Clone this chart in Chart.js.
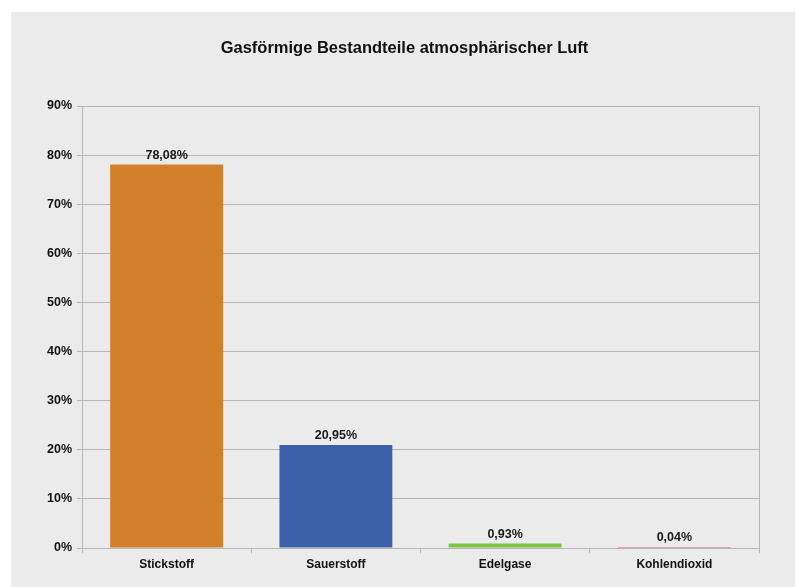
<!DOCTYPE html>
<html>
<head>
<meta charset="utf-8">
<script src="https://cdn.jsdelivr.net/npm/chart.js@4.4.1/dist/chart.umd.min.js"></script>
<style>
  html,body{margin:0;padding:0;background:#fff;}
  #panel{position:absolute;left:11px;top:12px;width:784px;height:575px;background:#ebebeb;}
  #wrap{position:absolute;left:0;top:0;width:798px;height:587px;}
</style>
</head>
<body>
<div id="panel"></div>
<div id="wrap"><canvas id="gasChart" width="798" height="587"></canvas></div>
<script>
const categories=['Stickstoff','Sauerstoff','Edelgase','Kohlendioxid'];
const shares=[78.08,20.95,0.93,0.04];
const yTicks=[0,10,20,30,40,50,60,70,80,90];
const barColors=['#d2802a','#3a60a9','#7dc243','#e05a5a'];
const titleText='Gasförmige Bestandteile atmosphärischer Luft';

const gridGray='#b5b5b5';
const fontFam='"Liberation Sans", Arial, sans-serif';

function pct(v){return v.toFixed(2).replace('.',',')+'%';}

// value labels over each bar
const valueLabels={
  id:'valueLabels',
  afterDatasetsDraw(chart){
    const ctx=chart.ctx;
    const meta=chart.getDatasetMeta(0);
    ctx.save();
    ctx.font='bold 12.5px '+fontFam;
    ctx.fillStyle='#1a1a1a';
    ctx.textAlign='center';
    ctx.textBaseline='bottom';
    meta.data.forEach((bar,i)=>{
      ctx.fillText(pct(shares[i]),bar.x,bar.y-3);
    });
    ctx.restore();
  }
};

// right frame line + title (centred on the panel, not the canvas)
const frameAndTitle={
  id:'frameAndTitle',
  afterDraw(chart){
    const a=chart.chartArea,ctx=chart.ctx;
    ctx.save();
    ctx.strokeStyle=gridGray;
    ctx.lineWidth=1;
    ctx.beginPath();
    ctx.moveTo(Math.round(a.right)+0.5,a.top);
    ctx.lineTo(Math.round(a.right)+0.5,a.bottom);
    ctx.stroke();
    ctx.font='bold 16.5px '+fontFam;
    ctx.fillStyle='#111';
    ctx.textAlign='center';
    ctx.textBaseline='middle';
    ctx.fillText(titleText,(a.left+a.right)/2-16,a.top-58);
    ctx.restore();
  }
};

new Chart(document.getElementById('gasChart'),{
  type:'bar',
  data:{
    labels:categories,
    datasets:[{
      data:shares,
      backgroundColor:barColors,
      borderWidth:0,
      minBarLength:1,
      barPercentage:0.667,
      categoryPercentage:1
    }]
  },
  options:{
    responsive:false,
    animation:false,
    layout:{padding:{left:37,right:39,top:106,bottom:0}},
    plugins:{
      legend:{display:false},
      tooltip:{enabled:false},
      title:{display:false}
    },
    scales:{
      x:{
        offset:true,
        grid:{offset:true,drawOnChartArea:false,drawTicks:true,tickLength:5,color:gridGray},
        border:{color:gridGray},
        ticks:{color:'#111',font:{family:fontFam,size:12,weight:'bold'},padding:4,maxRotation:0},
        afterFit(s){s.height=39;}
      },
      y:{
        min:0,max:90,
        afterBuildTicks(s){s.ticks=yTicks.map(v=>({value:v}));},
        grid:{color:gridGray,tickLength:5},
        border:{color:gridGray},
        ticks:{color:'#111',font:{family:fontFam,size:12.5,weight:'bold'},padding:5,callback:v=>v+'%'},
        afterFit(s){s.width=45;}
      }
    }
  },
  plugins:[valueLabels,frameAndTitle]
});
</script>
</body>
</html>
